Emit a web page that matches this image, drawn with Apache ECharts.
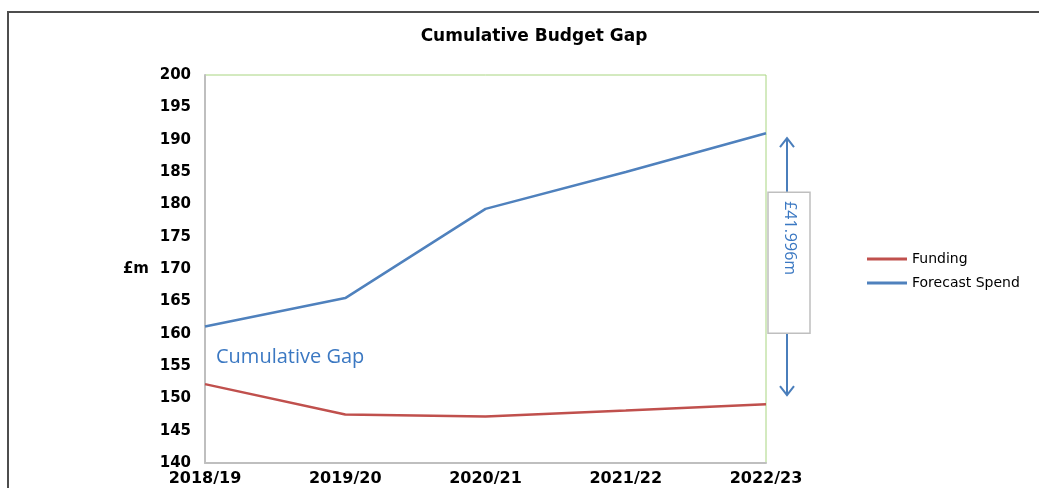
<!DOCTYPE html>
<html>
<head>
<meta charset="utf-8">
<script src="https://cdn.jsdelivr.net/npm/echarts@6/dist/echarts.min.js"></script>
<style>
html,body{margin:0;padding:0;background:#fff;}
#chart{width:1039px;height:488px;}
</style>
</head>
<body>
<div id="chart"></div>
<script>
var categories = ['2018/19', '2019/20', '2020/21', '2021/22', '2022/23'];
var funding = [152.2, 147.5, 147.2, 148.1, 149.1];
var forecastSpend = [161.1, 165.5, 179.3, 185.0, 191.0];
var gapLabel = '£41.996m';
var gapNote = 'Cumulative Gap';

var chart = echarts.init(document.getElementById('chart'));
var boldFont = 'DejaVu Sans';
var option = {
  backgroundColor: '#fff',
  animation: false,
  title: {
    text: 'Cumulative Budget Gap',
    left: 529, top: 23, textAlign: 'center',
    textStyle: { fontFamily: boldFont, fontWeight: 'bold', fontSize: 17, color: '#000' }
  },
  legend: {
    orient: 'vertical', left: 862, top: 247,
    itemWidth: 40, itemHeight: 3, itemGap: 10,
    icon: 'rect',
    textStyle: { fontFamily: boldFont, fontSize: 14, color: '#000' },
    data: ['Funding', 'Forecast Spend']
  },
  grid: { left: 205, right: 273, top: 75, bottom: 25, show: true, borderColor: '#a8d580', borderWidth: 1, backgroundColor: 'transparent' },
  xAxis: {
    type: 'category', data: categories, boundaryGap: false,
    axisLine: { lineStyle: { color: '#bfbfbf', width: 2 } },
    axisTick: { show: false },
    axisLabel: { fontFamily: boldFont, fontWeight: 'bold', fontSize: 16, color: '#000', margin: 8 }
  },
  yAxis: {
    type: 'value', min: 140, max: 200, interval: 5,
    name: '£m', nameLocation: 'middle', nameRotate: 0, nameGap: 56,
    nameTextStyle: { fontFamily: boldFont, fontWeight: 'bold', fontSize: 15, color: '#000' },
    axisLine: { show: true, lineStyle: { color: '#bfbfbf', width: 2 } },
    axisTick: { show: false },
    splitLine: { show: false },
    axisLabel: { fontFamily: boldFont, fontWeight: 'bold', fontSize: 15, color: '#000', margin: 14 }
  },
  series: [
    { name: 'Funding', type: 'line', data: funding, symbol: 'none', color: '#c0504d', lineStyle: { width: 2.5, color: '#c0504d' } },
    { name: 'Forecast Spend', type: 'line', data: forecastSpend, symbol: 'none', color: '#4f81bd', lineStyle: { width: 2.5, color: '#4f81bd' } }
  ]
};
chart.setOption(option);

var last = categories.length - 1;
var pTop = chart.convertToPixel({ gridIndex: 0 }, [last, forecastSpend[last]]);
var pBot = chart.convertToPixel({ gridIndex: 0 }, [last, funding[last]]);
var ax = pTop[0] + 21;
var yTop = pTop[1] + 5;
var yBot = pBot[1] - 9;
var boxTop = yTop + 54, boxBot = yBot - 62;
var arrowColor = '#4a7ebb';
var np = chart.convertToPixel({ gridIndex: 0 }, [0, 156.3]);

chart.setOption({
  graphic: [
    { type: 'rect', shape: { x: 8, y: 12, width: 1100, height: 600 }, style: { fill: 'none', stroke: '#4d4d4d', lineWidth: 2 }, silent: true },
    { type: 'line', shape: { x1: ax, y1: yTop, x2: ax, y2: boxTop }, style: { stroke: arrowColor, lineWidth: 2 } },
    { type: 'polyline', shape: { points: [[ax - 7, yTop + 9], [ax, yTop], [ax + 7, yTop + 9]] }, style: { stroke: arrowColor, lineWidth: 2, fill: 'none' } },
    { type: 'line', shape: { x1: ax, y1: boxBot, x2: ax, y2: yBot }, style: { stroke: arrowColor, lineWidth: 2 } },
    { type: 'polyline', shape: { points: [[ax - 7, yBot - 9], [ax, yBot], [ax + 7, yBot - 9]] }, style: { stroke: arrowColor, lineWidth: 2, fill: 'none' } },
    { type: 'rect', shape: { x: ax - 19, y: boxTop, width: 42, height: boxBot - boxTop }, style: { fill: '#fff', stroke: '#bfbfbf', lineWidth: 1.5 } },
    { type: 'text', x: ax + 3, y: boxTop + 9, rotation: -Math.PI / 2, style: { text: gapLabel, fill: '#3b78c2', font: '16px "Open Sans"', textAlign: 'left', textVerticalAlign: 'middle' } },
    { type: 'text', x: np[0] + 11, y: np[1], style: { text: gapNote, fill: '#3b78c2', font: '20px "Open Sans"', textAlign: 'left', textVerticalAlign: 'middle' } }
  ]
});
</script>
</body>
</html>
